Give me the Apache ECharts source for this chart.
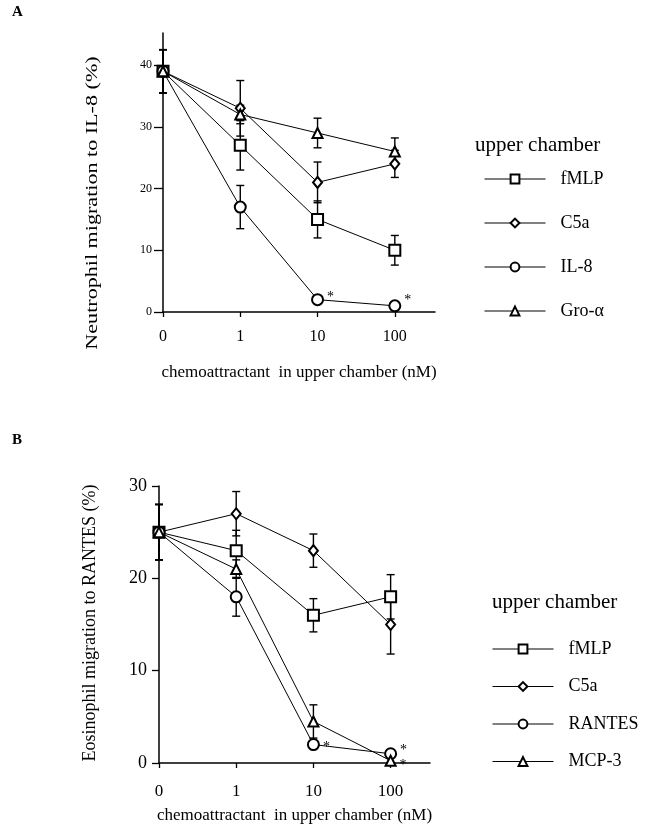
<!DOCTYPE html>
<html>
<head>
<meta charset="utf-8">
<script src="https://cdn.jsdelivr.net/npm/echarts@6/dist/echarts.min.js"></script>
<style>
  html, body { margin: 0; padding: 0; background: #fff; }
  #chart { width: 655px; height: 828px; }
</style>
</head>
<body>
<div id="chart"></div>
<script>
// x axis: concentration in upper chamber (nM), drawn at positions 0..3
const doseLabels = ["0", "1", "10", "100"];

// panel A: neutrophil migration to IL-8 (%)
const namesA = ["fMLP", "C5a", "IL-8", "Gro-α"];
const fmlpA = [39, 27, 15, 10];
const c5aA = [39, 33, 21, 24];
const il8A = [39, 17, 2, 1];
const groA = [39, 32, 29, 26];
const fmlpErrA = [3.5, 4, 3, 2.4];
const c5aErrA = [3.5, 4.5, 3.3, 2.2];
const il8ErrA = [3.5, 3.5, 0, 0];
const groErrA = [3.5, 1.5, 2.4, 2.2];
const yTicksA = [0, 10, 20, 30, 40];
const il8StarsA = [2, 3];

// panel B: eosinophil migration to RANTES (%)
const namesB = ["fMLP", "C5a", "RANTES", "MCP-3"];
const fmlpB = [25, 23, 16, 18];
const c5aB = [25, 27, 23, 15];
const rantesB = [25, 18, 2, 1];
const mcp3B = [25, 21, 4.5, 0.25];
const fmlpErrB = [3, 2.2, 1.8, 2.4];
const c5aErrB = [3, 2.4, 1.8, 3.2];
const rantesErrB = [3, 2.1, 0, 0];
const mcp3ErrB = [3, 1, 1.8, 0];
const yTicksB = [0, 10, 20, 30];
const rantesStarsB = [2, 3];
const mcp3StarsB = [3];

const FONT = '"Liberation Serif", "DejaVu Serif", serif';
const xTicks = [0, 1, 2, 3];

const symbols = {
  square: { symbol: "emptyRect", size: 11, border: 1.3 },
  diamond: { symbol: "emptyDiamond", size: [9, 11], border: 2 },
  circle: { symbol: "emptyCircle", size: 11, border: 1.3 },
  triangle: { symbol: "emptyTriangle", size: 10, border: 1.5 },
};

function lineSeries(name, values, mark, axis, stars, starOffsets) {
  const m = symbols[mark];
  return {
    type: "line",
    name: name,
    xAxisIndex: axis,
    yAxisIndex: axis,
    symbol: m.symbol,
    symbolSize: m.size,
    lineStyle: { color: "#000", width: 1 },
    itemStyle: { color: "#000", borderWidth: m.border },
    z: 3,
    data: values.map((v, i) => {
      const item = { value: [i, v] };
      const k = (stars || []).indexOf(i);
      if (k > -1) {
        // significance asterisk beside the point
        item.label = {
          show: true,
          formatter: "*",
          position: "right",
          distance: 3,
          offset: starOffsets[k],
          fontSize: 14,
          fontFamily: FONT,
          color: "#000",
        };
      }
      return item;
    }),
  };
}

function errorBars(values, errs, axis) {
  const data = values
    .map((v, i) => [i, v - errs[i], v + errs[i]])
    .filter((d) => d[2] > d[1]);
  return {
    type: "custom",
    xAxisIndex: axis,
    yAxisIndex: axis,
    z: 1,
    silent: true,
    encode: { x: 0, y: [1, 2] },
    data: data,
    renderItem: (params, api) => {
      const x = api.value(0);
      const lo = api.coord([x, api.value(1)]);
      const hi = api.coord([x, api.value(2)]);
      const w = 4;
      const style = { stroke: "#000", lineWidth: 1.4 };
      return {
        type: "group",
        children: [
          { type: "line", shape: { x1: hi[0], y1: hi[1], x2: lo[0], y2: lo[1] }, style },
          { type: "line", shape: { x1: hi[0] - w, y1: hi[1], x2: hi[0] + w, y2: hi[1] }, style },
          { type: "line", shape: { x1: lo[0] - w, y1: lo[1], x2: lo[0] + w, y2: lo[1] }, style },
        ],
      };
    },
  };
}

function xAxis(gridIndex, max, labelSize, margin, nameGap) {
  return {
    type: "value",
    gridIndex: gridIndex,
    min: 0,
    max: max,
    name: "chemoattractant  in upper chamber (nM)",
    nameLocation: "middle",
    nameGap: nameGap,
    nameTextStyle: { fontFamily: FONT, fontSize: 17, color: "#000" },
    axisLine: { lineStyle: { color: "#000", width: 1.5 } },
    axisTick: { customValues: xTicks, length: 5, lineStyle: { color: "#000", width: 1.3 } },
    axisLabel: {
      customValues: xTicks,
      formatter: (v) => doseLabels[v],
      fontFamily: FONT,
      fontSize: labelSize,
      color: "#000",
      margin: margin,
    },
    splitLine: { show: false },
  };
}

function yAxis(gridIndex, max, ticks, labelSize, tickLen, margin) {
  return {
    type: "value",
    gridIndex: gridIndex,
    min: 0,
    max: max,
    axisLine: { show: true, lineStyle: { color: "#000", width: 1.5 } },
    axisTick: { show: true, customValues: ticks, length: tickLen, lineStyle: { color: "#000", width: 1.3 } },
    axisLabel: {
      customValues: ticks,
      fontFamily: FONT,
      fontSize: labelSize,
      color: "#000",
      margin: margin,
    },
    splitLine: { show: false },
  };
}

function legend(names, left, top, gap) {
  return {
    orient: "vertical",
    left: left,
    top: top,
    padding: 0,
    itemWidth: 61,
    itemHeight: 11,
    itemGap: gap,
    selectedMode: false,
    data: names,
    lineStyle: { width: 1 },
    itemStyle: { borderWidth: 1.5 },
    textStyle: { fontFamily: FONT, fontSize: 18, color: "#000", padding: [0, 0, 0, 10] },
  };
}

const chart = echarts.init(document.getElementById("chart"));

const option = {
  animation: false,
  backgroundColor: "#fff",
  title: [
    { text: "A", left: 12, top: 5, padding: 0, textStyle: { fontFamily: FONT, fontSize: 15, fontWeight: "bold", color: "#000" } },
    { text: "B", left: 12, top: 433, padding: 0, textStyle: { fontFamily: FONT, fontSize: 15, fontWeight: "bold", color: "#000" } },
    { text: "upper chamber", left: 475, top: 135, padding: 0, textStyle: { fontFamily: FONT, fontSize: 21, fontWeight: "normal", color: "#000" } },
    { text: "upper chamber", left: 492, top: 592, padding: 0, textStyle: { fontFamily: FONT, fontSize: 21, fontWeight: "normal", color: "#000" } },
  ],
  legend: [legend(namesA, 484, 170, 26), legend(namesB, 492, 640, 19.5)],
  grid: [
    { left: 163, top: 33, width: 272, height: 279 },
    { left: 159, top: 486, width: 271, height: 277 },
  ],
  xAxis: [xAxis(0, 3.52, 16, 17, 52), xAxis(1, 3.51, 17, 20, 44)],
  yAxis: [yAxis(0, 45.2, yTicksA, 12, 9, 11), yAxis(1, 30, yTicksB, 18, 7, 12)],
  graphic: [
    {
      type: "text",
      x: 93,
      y: 203,
      rotation: Math.PI / 2,
      scaleX: 1.3,
      style: {
        text: "Neutrophil migration to IL-8 (%)",
        font: '17px "Liberation Serif"',
        textAlign: "center",
        textVerticalAlign: "middle",
        fill: "#000",
      },
    },
    {
      type: "text",
      x: 90,
      y: 623,
      rotation: Math.PI / 2,
      style: {
        text: "Eosinophil migration to RANTES (%)",
        font: '18px "Liberation Serif"',
        textAlign: "center",
        textVerticalAlign: "middle",
        fill: "#000",
      },
    },
  ],
  series: [
    errorBars(fmlpA, fmlpErrA, 0),
    errorBars(c5aA, c5aErrA, 0),
    errorBars(il8A, il8ErrA, 0),
    errorBars(groA, groErrA, 0),
    lineSeries(namesA[0], fmlpA, "square", 0),
    lineSeries(namesA[1], c5aA, "diamond", 0),
    lineSeries(namesA[2], il8A, "circle", 0, il8StarsA, [[0, -2], [0, -5]]),
    lineSeries(namesA[3], groA, "triangle", 0),

    errorBars(fmlpB, fmlpErrB, 1),
    errorBars(c5aB, c5aErrB, 1),
    errorBars(rantesB, rantesErrB, 1),
    errorBars(mcp3B, mcp3ErrB, 1),
    lineSeries(namesB[0], fmlpB, "square", 1),
    lineSeries(namesB[1], c5aB, "diamond", 1),
    lineSeries(namesB[2], rantesB, "circle", 1, rantesStarsB, [[0, 3], [0, -3]]),
    lineSeries(namesB[3], mcp3B, "triangle", 1, mcp3StarsB, [[0, 5]]),
  ],
};

chart.setOption(option);
</script>
</body>
</html>
